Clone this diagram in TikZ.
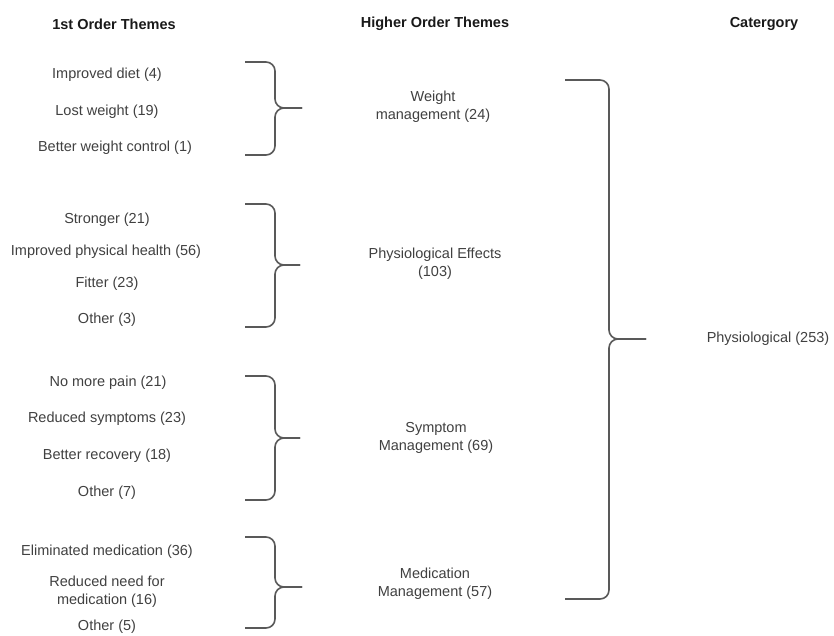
\documentclass[tikz,border=0pt]{standalone}
\usepackage{fontspec}
\setmainfont{Liberation Sans}
\tikzset{
  txt/.style={font=\fontsize{14.5}{18}\selectfont, text=black!75, align=center, inner sep=0pt},
  head/.style={font=\fontsize{14.5}{17}\selectfont\bfseries, text=black!90, inner sep=0pt},
  brace/.style={draw=black!65, line width=1.6pt, rounded corners=9pt}}
\begin{document}
\begin{tikzpicture}[x=1pt,y=-1pt]
\useasboundingbox (0,0) rectangle (834,635);
% headings
\node[head] (h1) at (114,24) {1st Order Themes};
\node[head] (h2) at (435,24) {Higher Order Themes};
\node[head] (h3) at (764,24) {Catergory};
% group 1
\node[txt] (a1) at (107,75) {Improved diet (4)};
\node[txt] (a2) at (107,112) {Lost weight (19)};
\node[txt] (a3) at (115,148) {Better weight control (1)};
\node[txt] (m1) at (433,107) {Weight\\management (24)};
% group 2
\node[txt] (b1) at (107,220) {Stronger (21)};
\node[txt] (b2) at (106,252) {Improved physical health (56)};
\node[txt] (b3) at (107,284) {Fitter (23)};
\node[txt] (b4) at (107,320) {Other (3)};
\node[txt] (m2) at (435,264) {Physiological Effects\\(103)};
% group 3
\node[txt] (c1) at (108,383) {No more pain (21)};
\node[txt] (c2) at (107,419) {Reduced symptoms (23)};
\node[txt] (c3) at (107,456) {Better recovery (18)};
\node[txt] (c4) at (107,493) {Other (7)};
\node[txt] (m3) at (436,438) {Symptom\\Management (69)};
% group 4
\node[txt] (d1) at (107,552) {Eliminated medication (36)};
\node[txt] (d2) at (107,592) {Reduced need for\\medication (16)};
\node[txt] (d3) at (107,627) {Other (5)};
\node[txt] (m4) at (435,584) {Medication\\Management (57)};
% category
\node[txt] (cat) at (768,339) {Physiological (253)};
% brace coordinates: top end, vertical join, tip, bottom end
\coordinate (g1t) at (245,62);  \coordinate (g1v) at (275,108); \coordinate (g1m) at (302,108); \coordinate (g1b) at (245,155);
\coordinate (g2t) at (245,204); \coordinate (g2v) at (275,265); \coordinate (g2m) at (300,265); \coordinate (g2b) at (245,327);
\coordinate (g3t) at (245,376); \coordinate (g3v) at (275,438); \coordinate (g3m) at (300,438); \coordinate (g3b) at (245,500);
\coordinate (g4t) at (245,537); \coordinate (g4v) at (275,587); \coordinate (g4m) at (302,587); \coordinate (g4b) at (245,628);
\coordinate (gct) at (565,80);  \coordinate (gcv) at (609,339); \coordinate (gcm) at (646,339); \coordinate (gcb) at (565,599);
% braces
\foreach \g in {g1,g2,g3,g4,gc}{
  \draw[brace] (\g t) -| (\g v) -- (\g m);
  \draw[brace] (\g b) -| (\g v) -- (\g m);
}
\end{tikzpicture}
\end{document}
